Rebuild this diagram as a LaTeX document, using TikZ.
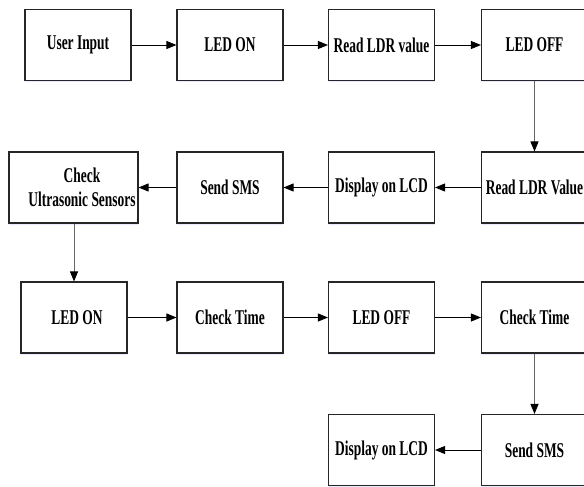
\documentclass[tikz,border=0pt]{standalone}
\usepackage{fontspec}
\setmainfont[FakeStretch=0.64]{Liberation Serif}
\usetikzlibrary{arrows.meta,shadows}
\begin{document}
\begin{tikzpicture}[x=1pt,y=-1pt,
  stepbox/.style={draw=black!85,line width=1.1pt,fill=white,
    minimum width=106pt,minimum height=71pt,inner sep=0pt,
    font=\fontsize{21}{24}\selectfont\bfseries,align=center,
    drop shadow={shadow xshift=0pt,shadow yshift=-2pt,fill=blue!25,opacity=0.35}},
  flow/.style={line width=0.9pt,draw=black,-{Triangle[length=10pt,width=8pt]}},
  vflow/.style={line width=0.9pt,draw=black!60,-{Triangle[length=10pt,width=8pt,fill=black,color=black]}}]
\useasboundingbox (0,0) rectangle (584,487);
\clip (0,0) rectangle (584,487);
% row 1
\node[stepbox] (ui) at (78,45) {User Input};
\node[stepbox] (led1) at (230,45) {LED ON};
\node[stepbox] (rldr1) at (381.5,45) {Read LDR value};
\node[stepbox] (ledoff1) at (534.5,45) {LED OFF};
% row 2
\node[stepbox,minimum width=129pt,
  label={[font=\fontsize{21}{24}\selectfont\bfseries,align=center,xshift=8.5pt]center:Check\\Ultrasonic Sensors}]
  (cus) at (73.5,187.5) {};
\node[stepbox] (sms1) at (230,187.5) {Send SMS};
\node[stepbox] (disp1) at (381.5,187.5) {Display on LCD};
\node[stepbox] (rldr2) at (534.5,187.5) {Read LDR Value};
% row 3
\node[stepbox] (led2) at (74,317.5) {\hspace*{6pt}LED ON};
\node[stepbox] (ct1) at (230,317.5) {Check Time};
\node[stepbox] (ledoff2) at (381.5,317.5) {LED OFF};
\node[stepbox] (ct2) at (534.5,317.5) {Check Time};
% row 4
\node[stepbox] (disp2) at (381.5,450) {Display on LCD};
\node[stepbox] (sms2) at (534.5,450) {Send SMS};
% connectors
\draw[flow] (ui) -- (led1);
\draw[flow] (led1) -- (rldr1);
\draw[flow] (rldr1) -- (ledoff1);
\draw[vflow] (ledoff1) -- (rldr2);
\draw[flow] (rldr2) -- (disp1);
\draw[flow] (disp1) -- (sms1);
\draw[flow] (sms1) -- (cus);
\draw[vflow] (cus.south -| led2.north) -- (led2.north);
\draw[flow] (led2) -- (ct1);
\draw[flow] (ct1) -- (ledoff2);
\draw[flow] (ledoff2) -- (ct2);
\draw[vflow] (ct2) -- (sms2);
\draw[flow] (sms2) -- (disp2);
\end{tikzpicture}
\end{document}
